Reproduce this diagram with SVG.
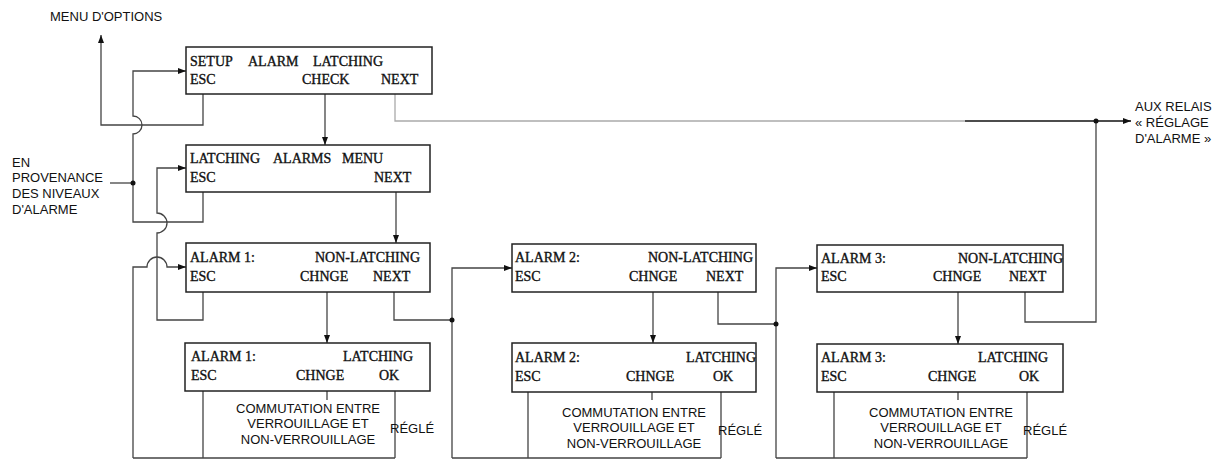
<svg xmlns="http://www.w3.org/2000/svg" width="1216" height="461" viewBox="0 0 1216 461">
<defs>
<marker id="ah" markerUnits="userSpaceOnUse" markerWidth="8" markerHeight="8" viewBox="0 0 8 8" refX="8" refY="4" orient="auto">
<path d="M0,1 L8,4 L0,7 Z" fill="#111"/>
</marker>
</defs>
<style>
.box{fill:#fff;stroke:#222;stroke-width:1.5}
.bt{font-family:"Liberation Serif","Times New Roman",serif;font-size:14px;fill:#111;stroke:#111;stroke-width:0.35}
.lbl{font-family:"Liberation Sans",Arial,sans-serif;font-size:13px;fill:#111}
.c{fill:none;stroke:#444;stroke-width:1.3}
.g{fill:none;stroke:#aaa;stroke-width:1.3}
.k{fill:none;stroke:#111;stroke-width:1.5}
.dot{fill:#111}
</style>
<rect width="1216" height="461" fill="#fff"/>

<g id="connectors">
<path class="c" d="M203,94 V125 H101 V35" marker-end="url(#ah)"/>
<path class="c" d="M203,192 V222 H133 V134 A9,9 0 0 0 133,116 V71 H186" marker-end="url(#ah)"/>
<path class="c" d="M110,183 H133"/>
<path class="c" d="M203,292 V320 H157 V233 A10,10 0 0 0 157,213 V168 H186" marker-end="url(#ah)"/>
<path class="c" d="M133,458 V267 H147 A10,10 0 0 1 167,267 H186" marker-end="url(#ah)"/>
<path class="c" d="M203,391 V458 M395,391 V458 M133,458 H395 M327,391 V400"/>
<path class="c" d="M325,94 V145" marker-end="url(#ah)"/>
<path class="c" d="M396,192 V243" marker-end="url(#ah)"/>
<path class="c" d="M327,292 V343" marker-end="url(#ah)"/>
<path class="c" d="M394,292 V320 H452"/>
<path class="c" d="M452,458 V268 H512" marker-end="url(#ah)"/>
<path class="c" d="M528,392 V458 M721,392 V458 M452,458 H721 M652,392 V400"/>
<path class="c" d="M653,292 V343" marker-end="url(#ah)"/>
<path class="c" d="M718,292 V324 H776"/>
<path class="c" d="M776,458 V268 H817" marker-end="url(#ah)"/>
<path class="c" d="M834,392 V458 M1027,392 V458 M776,458 H1027 M958,392 V400"/>
<path class="c" d="M958,292 V344" marker-end="url(#ah)"/>
<path class="c" d="M1025,292 V322 H1096 V121"/>
<path class="g" d="M395,94 V121 H965"/>
<path class="k" d="M965,121 H1131" marker-end="url(#ah)"/>
<circle class="dot" cx="133" cy="183" r="2.5"/>
<circle class="dot" cx="452" cy="320" r="2.5"/>
<circle class="dot" cx="776" cy="324" r="2.5"/>
<circle class="dot" cx="1096" cy="121" r="2.5"/>
</g>

<g id="labels">
<text class="lbl" x="50" y="21">MENU D'OPTIONS</text>
<text class="lbl" x="12" y="167">EN</text>
<text class="lbl" x="12" y="182">PROVENANCE</text>
<text class="lbl" x="12" y="198">DES NIVEAUX</text>
<text class="lbl" x="12" y="214">D'ALARME</text>
<text class="lbl" x="1135" y="111">AUX RELAIS</text>
<text class="lbl" x="1135" y="127">« RÉGLAGE</text>
<text class="lbl" x="1135" y="143">D'ALARME »</text>
</g>

<g id="setup">
<rect class="box" x="186" y="47" width="246" height="47"/>
<text class="bt" x="190" y="66">SETUP</text>
<text class="bt" x="248" y="66">ALARM</text>
<text class="bt" x="313" y="66">LATCHING</text>
<text class="bt" x="190" y="84">ESC</text>
<text class="bt" x="302" y="84">CHECK</text>
<text class="bt" x="381" y="84">NEXT</text>
</g>

<g id="latching-menu">
<rect class="box" x="186" y="145" width="244" height="47"/>
<text class="bt" x="190" y="163">LATCHING</text>
<text class="bt" x="273" y="163">ALARMS</text>
<text class="bt" x="342" y="163">MENU</text>
<text class="bt" x="190" y="182">ESC</text>
<text class="bt" x="374" y="182">NEXT</text>
</g>

<g id="alarm1-nl">
<rect class="box" x="186" y="243" width="244" height="49"/>
<text class="bt" x="190" y="262">ALARM 1:</text>
<text class="bt" x="315" y="262">NON-LATCHING</text>
<text class="bt" x="190" y="281">ESC</text>
<text class="bt" x="300" y="281">CHNGE</text>
<text class="bt" x="373" y="281">NEXT</text>
</g>

<g id="alarm1-l">
<rect class="box" x="185" y="343" width="245" height="48"/>
<text class="bt" x="191" y="361">ALARM 1:</text>
<text class="bt" x="343" y="361">LATCHING</text>
<text class="bt" x="191" y="380">ESC</text>
<text class="bt" x="296" y="380">CHNGE</text>
<text class="bt" x="379" y="380">OK</text>
<text class="lbl" x="308" y="413" text-anchor="middle">COMMUTATION ENTRE</text>
<text class="lbl" x="308" y="428" text-anchor="middle">VERROUILLAGE ET</text>
<text class="lbl" x="308" y="444" text-anchor="middle">NON-VERROUILLAGE</text>
<text class="lbl" x="390" y="433">RÉGLÉ</text>
</g>

<g id="alarm2-nl">
<rect class="box" x="512" y="244" width="244" height="48"/>
<text class="bt" x="515" y="262">ALARM 2:</text>
<text class="bt" x="648" y="262">NON-LATCHING</text>
<text class="bt" x="515" y="281">ESC</text>
<text class="bt" x="629" y="281">CHNGE</text>
<text class="bt" x="706" y="281">NEXT</text>
</g>

<g id="alarm2-l">
<rect class="box" x="512" y="343" width="244" height="49"/>
<text class="bt" x="515" y="362">ALARM 2:</text>
<text class="bt" x="686" y="362">LATCHING</text>
<text class="bt" x="515" y="381">ESC</text>
<text class="bt" x="626" y="381">CHNGE</text>
<text class="bt" x="713" y="381">OK</text>
<text class="lbl" x="634" y="417" text-anchor="middle">COMMUTATION ENTRE</text>
<text class="lbl" x="634" y="432" text-anchor="middle">VERROUILLAGE ET</text>
<text class="lbl" x="634" y="448" text-anchor="middle">NON-VERROUILLAGE</text>
<text class="lbl" x="718" y="435">RÉGLÉ</text>
</g>

<g id="alarm3-nl">
<rect class="box" x="817" y="245" width="246" height="47"/>
<text class="bt" x="821" y="263">ALARM 3:</text>
<text class="bt" x="958" y="263">NON-LATCHING</text>
<text class="bt" x="821" y="281">ESC</text>
<text class="bt" x="933" y="281">CHNGE</text>
<text class="bt" x="1009" y="281">NEXT</text>
</g>

<g id="alarm3-l">
<rect class="box" x="817" y="344" width="246" height="48"/>
<text class="bt" x="821" y="362">ALARM 3:</text>
<text class="bt" x="978" y="362">LATCHING</text>
<text class="bt" x="821" y="381">ESC</text>
<text class="bt" x="928" y="381">CHNGE</text>
<text class="bt" x="1019" y="381">OK</text>
<text class="lbl" x="941" y="417" text-anchor="middle">COMMUTATION ENTRE</text>
<text class="lbl" x="941" y="432" text-anchor="middle">VERROUILLAGE ET</text>
<text class="lbl" x="941" y="448" text-anchor="middle">NON-VERROUILLAGE</text>
<text class="lbl" x="1023" y="435">RÉGLÉ</text>
</g>
</svg>
